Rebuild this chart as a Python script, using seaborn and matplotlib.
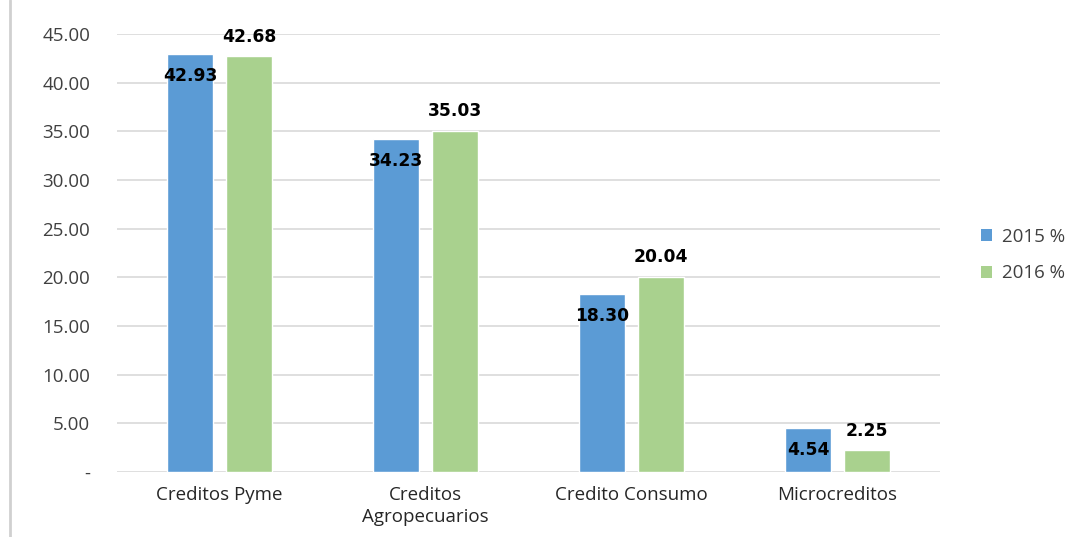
import matplotlib
matplotlib.use("Agg")
import matplotlib.pyplot as plt
from matplotlib.lines import Line2D
from matplotlib.patches import Patch
import seaborn as sns
import pandas as pd

categories = ["Creditos Pyme", "Creditos\nAgropecuarios", "Credito Consumo", "Microcreditos"]
series_names = ["2015 %", "2016 %"]
values_2015 = [42.93, 34.23, 18.30, 4.54]
values_2016 = [42.68, 35.03, 20.04, 2.25]
yticks = [0, 5, 10, 15, 20, 25, 30, 35, 40, 45]
ytick_labels = ["-", "5.00", "10.00", "15.00", "20.00", "25.00", "30.00", "35.00", "40.00", "45.00"]
colors = ["#5B9BD5", "#A9D18E"]

df = pd.DataFrame({
    "cat": categories * 2,
    "serie": [series_names[0]] * 4 + [series_names[1]] * 4,
    "val": values_2015 + values_2016,
})

sns.set_theme(style="white")
plt.rcParams["font.family"] = ["Open Sans", "DejaVu Sans"]

fig = plt.figure(figsize=(10.81, 5.37), dpi=100)
ax = fig.add_axes([0.108, 0.121, 0.762, 0.816])

sns.barplot(data=df, x="cat", y="val", hue="serie", palette=colors,
            width=0.574, gap=0.22, ax=ax, legend=False, saturation=1)

ax.set_ylim(0, 45)
ax.set_xlim(-0.5, 3.5)
ax.set_yticks(yticks)
ax.set_yticklabels(ytick_labels)
ax.yaxis.grid(True, color="#d9d9d9", linewidth=1.2)
ax.set_axisbelow(True)
for s in ax.spines.values():
    s.set_visible(False)
ax.set_xlabel("")
ax.set_ylabel("")
ax.tick_params(axis="y", length=0, pad=19, labelsize=13.5, labelcolor="#404040")
ax.tick_params(axis="x", length=0, pad=10, labelsize=13.5, labelcolor="#262626")
for t in ax.get_xticklabels():
    t.set_linespacing(1.3)

# data labels
for i, cont in enumerate(ax.containers):
    vals = values_2015 if i == 0 else values_2016
    for bar, v in zip(cont, vals):
        xc = bar.get_x() + bar.get_width() / 2
        top = bar.get_height()
        off = -16 if i == 0 else 14
        ax.annotate(f"{v:.2f}", (xc, top), xytext=(0, off), textcoords="offset points",
                    ha="center", va="center", fontsize=12.3, fontweight="bold",
                    color="black", family=["DejaVu Sans"], annotation_clip=False)

handles = [Patch(facecolor=c, edgecolor="none") for c in colors]
fig.legend(handles, series_names, loc="center left", bbox_to_anchor=(0.892, 0.525),
           frameon=False, fontsize=13.5, labelcolor="#404040", handlelength=0.6,
           handleheight=0.6, handletextpad=0.5, labelspacing=1.0)

fig.add_artist(Line2D([0.0095, 0.0095], [0.0, 1.0], transform=fig.transFigure,
                      color="#d0d0d0", linewidth=2))

fig.savefig("out.png", dpi=100)
